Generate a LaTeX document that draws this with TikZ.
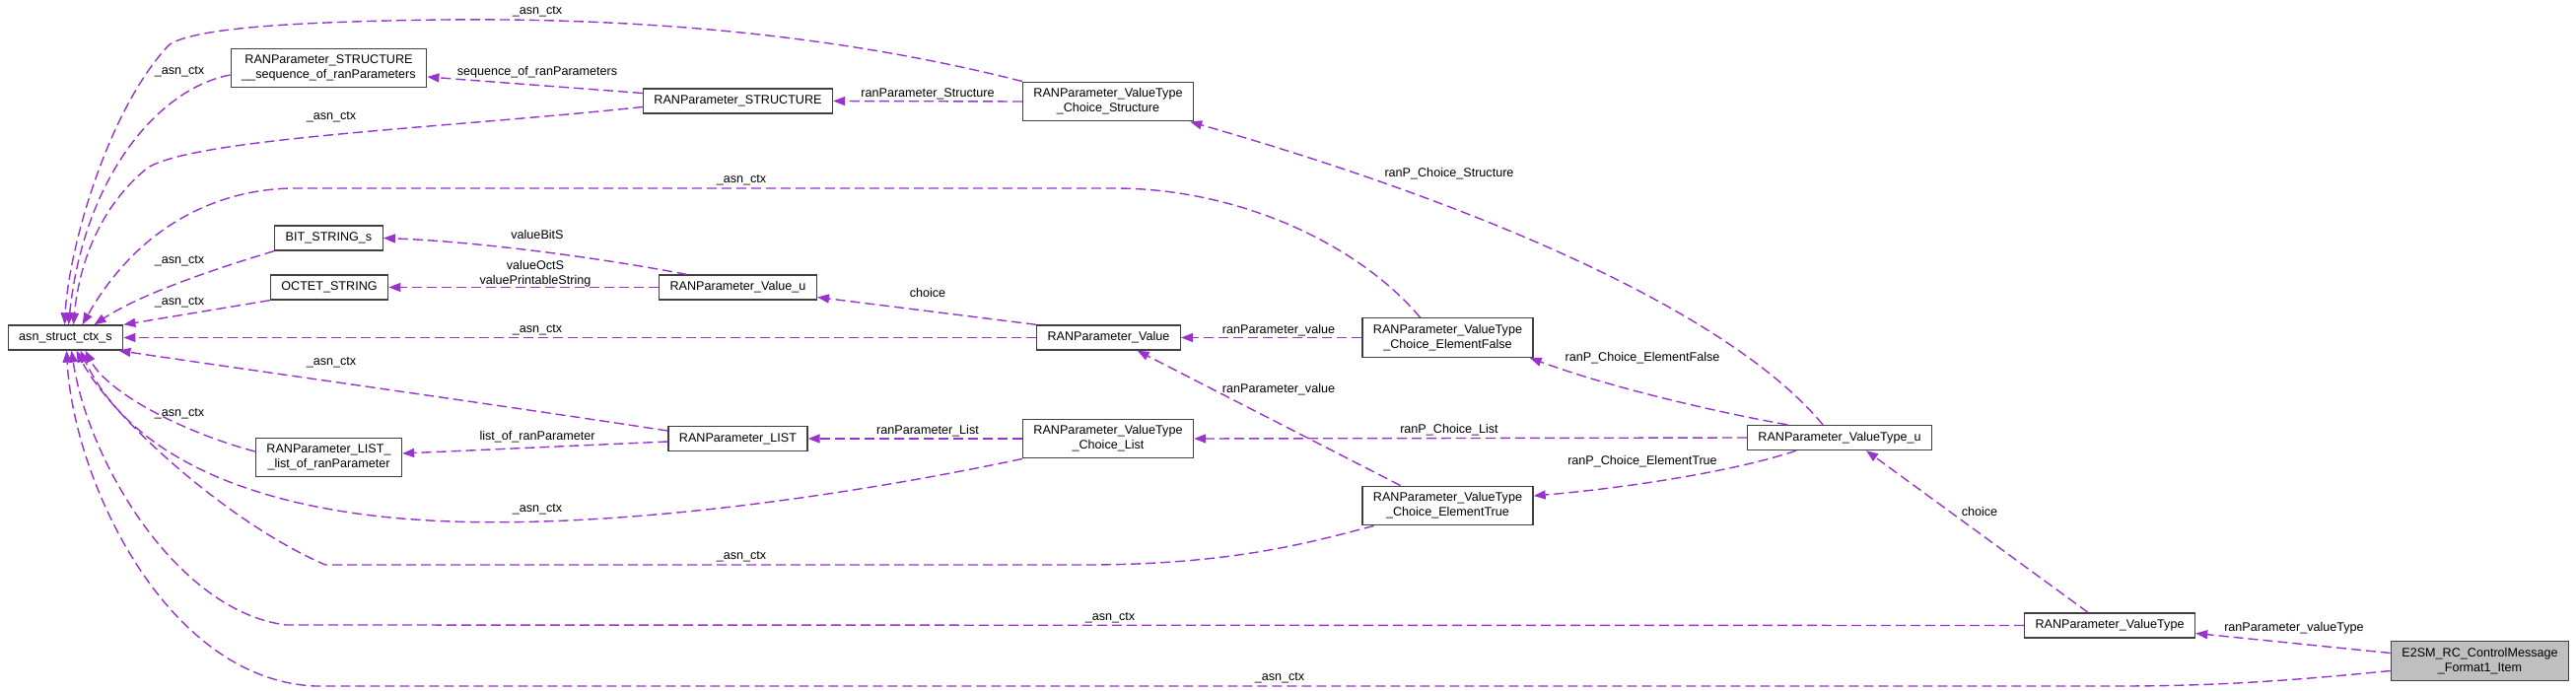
\documentclass[tikz,border=0pt]{standalone}
\usepackage{fontspec}
\setmainfont{Liberation Sans}
\usetikzlibrary{arrows.meta,positioning}
\definecolor{edgepurple}{RGB}{154,50,205}
\definecolor{boxgray}{RGB}{64,64,64}
\definecolor{focusgray}{RGB}{191,191,191}
\tikzset{
  structbox/.style = {
    rectangle,
    draw=boxgray,
    line width=1.3pt,
    fill=white,
    align=center,
    inner xsep=11pt,
    inner ysep=6.5pt,
    minimum height=25pt,
    font=\fontsize{12.6}{15}\selectfont
  },
  focusbox/.style = {
    structbox,
    fill=focusgray
  },
  usage/.style = {
    line width=1.4pt,
    draw=edgepurple,
    dash pattern=on 10pt off 5pt,
    ->,
    >={Triangle[length=12pt,width=9pt]}
  },
  member/.style = {
    font=\fontsize{12.6}{15}\selectfont,
    align=center,
    inner sep=0pt
  }
}
\begin{document}
\begin{tikzpicture}[x=1pt,y=-1pt]
\useasboundingbox (0,0) rectangle (2613,701);

% Structs
\node[structbox] (asn) at (66.5,342.5) {asn\_struct\_ctx\_s};
\node[structbox] (seq) at (333.5,69) {RANParameter\_STRUCTURE\\\_\_sequence\_of\_ranParameters};
\node[structbox] (bitstr) at (333.5,241.5) {BIT\_STRING\_s};
\node[structbox] (octet) at (334,291.5) {OCTET\_STRING};
\node[structbox] (listList) at (333.5,464) {RANParameter\_LIST\_\\\_list\_of\_ranParameter};

\node[structbox] (structure) at (748.5,102.5) {RANParameter\_STRUCTURE};
\node[structbox] (valueU) at (748.5,291.5) {RANParameter\_Value\_u};
\node[structbox] (list) at (748.5,445) {RANParameter\_LIST};

\node[structbox] (chStruct) at (1124,103) {RANParameter\_ValueType\\\_Choice\_Structure};
\node[structbox] (value) at (1124.5,342.5) {RANParameter\_Value};
\node[structbox] (chList) at (1124,445) {RANParameter\_ValueType\\\_Choice\_List};

\node[structbox] (elFalse) at (1468.5,342.5) {RANParameter\_ValueType\\\_Choice\_ElementFalse};
\node[structbox] (elTrue) at (1468.5,513) {RANParameter\_ValueType\\\_Choice\_ElementTrue};

\node[structbox] (valueTypeU) at (1866,444) {RANParameter\_ValueType\_u};
\node[structbox] (valueType) at (2140,634.5) {RANParameter\_ValueType};

% Dokumentierte Struktur
\node[focusbox] (e2sm) at (2515.5,670.5) {E2SM\_RC\_ControlMessage\\\_Format1\_Item};

% VERBINDUNGEN - _asn_ctx
\draw[usage] (chStruct.north west) .. controls (850,35) and (650,18) .. (450,20) .. controls (300,22) and (200,28) .. (172,45) .. controls (110,110) and (70,250) .. ([xshift=-1pt]asn.north) node[member] at (545,12) {\_asn\_ctx};
\draw[usage] ([yshift=-7pt]seq.west) .. controls (160,90) and (85,180) .. ([xshift=3pt]asn.north) node[member] at (182,73) {\_asn\_ctx};
\draw[usage] ([yshift=-6pt]structure.west) .. controls (450,130) and (200,140) .. (150,170) .. controls (100,210) and (80,270) .. ([xshift=8pt]asn.north) node[member] at (336,119) {\_asn\_ctx};
\draw[usage] ([xshift=-28pt]elFalse.north) .. controls (1380,250) and (1260,191) .. (1130,191) -- (300,191) .. controls (220,191) and (140,230) .. ([xshift=17pt]asn.north) node[member] at (752,183) {\_asn\_ctx};
\draw[usage] (bitstr.south west) .. controls (210,275) and (140,300) .. ([xshift=29pt]asn.north) node[member] at (182,265) {\_asn\_ctx};
\draw[usage] (octet.south west) -- (asn.north east) node[member] at (182,307) {\_asn\_ctx};
\draw[usage] (value.west) -- (asn.east) node[member] at (545,335) {\_asn\_ctx};
\draw[usage] ([yshift=8pt]list.west) .. controls (500,410) and (250,375) .. ([xshift=-5pt]asn.south east) node[member] at (336,368) {\_asn\_ctx};
\draw[usage] ([yshift=6pt]listList.west) .. controls (190,440) and (110,400) .. ([xshift=20pt]asn.south) node[member] at (182,420) {\_asn\_ctx};
\draw[usage] (chList.south west) .. controls (850,505) and (600,540) .. (420,527) .. controls (250,515) and (130,460) .. ([xshift=15pt]asn.south) node[member] at (545,517) {\_asn\_ctx};
\draw[usage] ([xshift=-75pt]elTrue.south) .. controls (1330,550) and (1250,573) .. (1100,573) -- (330,573) .. controls (230,530) and (110,420) .. ([xshift=11pt]asn.south) node[member] at (752,565) {\_asn\_ctx};
\draw[usage] (valueType.west) -- (290,634) .. controls (180,620) and (90,470) .. ([xshift=6pt]asn.south) node[member] at (1126,627) {\_asn\_ctx};
\draw[usage] ([yshift=-10pt]e2sm.west) .. controls (2330,690) and (2250,696) .. (2150,696) -- (320,696) .. controls (170,690) and (75,490) .. ([xshift=1pt]asn.south) node[member] at (1298,688) {\_asn\_ctx};

% VERBINDUNGEN - Mitglieder
\draw[usage] ([yshift=8pt]structure.west) -- ([yshift=-9pt]seq.east) node[member] at (545,73) {sequence\_of\_ranParameters};
\draw[usage] (chStruct.west) -- (structure.east) node[member] at (941,95) {ranParameter\_Structure};
\draw[usage] ([xshift=-52pt]valueU.north) .. controls (600,260) and (480,245) .. (bitstr.east) node[member] at (545,238) {valueBitS};
\draw[usage] (valueU.west) -- (octet.east) node[member] at (543,278) {valueOctS\\valuePrintableString};
\draw[usage] (value.north west) -- ([yshift=-10pt]valueU.east) node[member] at (941,297) {choice};
\draw[usage] (elFalse.west) -- (value.east) node[member] at (1297,335) {ranParameter\_value};
\draw[usage] ([xshift=-48pt]elTrue.north) -- ([xshift=29pt]value.south) node[member] at (1297,395) {ranParameter\_value};
\draw[usage] (chList.west) -- (list.east) node[member] at (941,437) {ranParameter\_List};
\draw[usage] ([yshift=-3pt]list.west) -- ([yshift=4pt]listList.east) node[member] at (545,443) {list\_of\_ranParameter};

% VERBINDUNGEN - ValueType_u
\draw[usage] ([xshift=-17pt]valueTypeU.north) .. controls (1770,335) and (1560,225) .. ([xshift=-4pt]chStruct.south east) node[member] at (1470,176) {ranP\_Choice\_Structure};
\draw[usage] ([xshift=-53pt]valueTypeU.north) .. controls (1740,418) and (1630,392) .. ([xshift=-4pt]elFalse.south east) node[member] at (1666,363) {ranP\_Choice\_ElementFalse};
\draw[usage] (valueTypeU.west) -- (chList.east) node[member] at (1470,436) {ranP\_Choice\_List};
\draw[usage] ([xshift=-44pt]valueTypeU.south) .. controls (1760,478) and (1650,495) .. ([yshift=10pt]elTrue.east) node[member] at (1666,468) {ranP\_Choice\_ElementTrue};

% VERBINDUNGEN - ValueType
\draw[usage] ([xshift=-22pt]valueType.north) -- ([xshift=27pt]valueTypeU.south) node[member] at (2008,519) {choice};
\draw[usage] ([yshift=8pt]e2sm.west) -- ([yshift=-8pt]valueType.east) node[member] at (2327,637) {ranParameter\_valueType};

\end{tikzpicture}
\end{document}
